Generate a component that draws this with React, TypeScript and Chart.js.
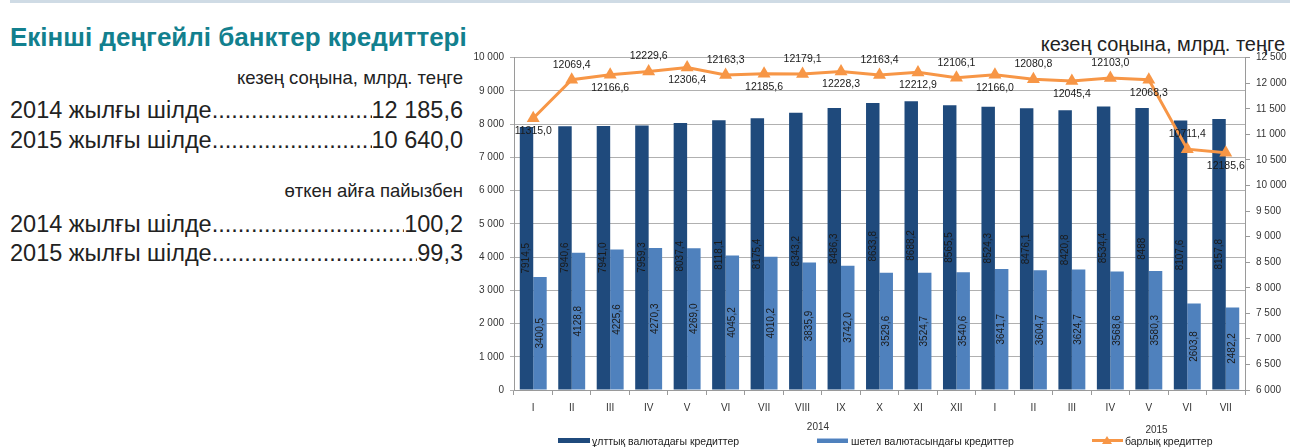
import React, { useEffect, useRef } from "react";
import { Chart, registerables } from "chart.js";

Chart.register(...registerables);

const months = ["I", "II", "III", "IV", "V", "VI", "VII", "VIII", "IX", "X", "XI", "XII", "I", "II", "III", "IV", "V", "VI", "VII"];
const nationalCredits = [7914.5, 7940.6, 7941.0, 7959.3, 8037.4, 8118.1, 8175.4, 8343.2, 8486.3, 8633.8, 8688.2, 8565.5, 8524.3, 8476.1, 8420.8, 8534.4, 8488, 8107.6, 8157.8];
const nationalLabels = ["7914,5", "7940,6", "7941,0", "7959,3", "8037,4", "8118,1", "8175,4", "8343,2", "8486,3", "8633,8", "8688,2", "8565,5", "8524,3", "8476,1", "8420,8", "8534,4", "8488", "8107,6", "8157,8"];
const foreignCredits = [3400.5, 4128.8, 4225.6, 4270.3, 4269.0, 4045.2, 4010.2, 3835.9, 3742.0, 3529.6, 3524.7, 3540.6, 3641.7, 3604.7, 3624.7, 3568.6, 3580.3, 2603.8, 2482.2];
const foreignLabels = ["3400,5", "4128,8", "4225,6", "4270,3", "4269,0", "4045,2", "4010,2", "3835,9", "3742,0", "3529,6", "3524,7", "3540,6", "3641,7", "3604,7", "3624,7", "3568,6", "3580,3", "2603,8", "2482,2"];
const totalCredits = [11315.0, 12069.4, 12166.6, 12229.6, 12306.4, 12163.3, 12185.6, 12179.1, 12228.3, 12163.4, 12212.9, 12106.1, 12166.0, 12080.8, 12045.4, 12103.0, 12068.3, 10711.4, 10640.0];
const totalLabels = ["11315,0", "12069,4", "12166,6", "12229,6", "12306,4", "12163,3", "12185,6", "12179,1", "12228,3", "12163,4", "12212,9", "12106,1", "12166,0", "12080,8", "12045,4", "12103,0", "12068,3", "10711,4", "12185,6"];
const yearLabels = ["2014", "2015"];
const seriesNames = ["ұлттық валютадағы кредиттер", "шетел валютасындағы кредиттер", "барлық кредиттер"];

const FONT = "'Liberation Sans', Arial, sans-serif";
const DARK = "#1f4a7c";
const LIGHT = "#4f81bd";
const ORANGE = "#f79646";
const TEXT = "#222222";

const fmt = (v: number) => String(Math.round(v)).replace(/\B(?=(\d{3})+(?!\d))/g, " ");

const labelsPlugin = {
  id: "valueLabels",
  afterDatasetsDraw(chart: any) {
    const ctx = chart.ctx;
    ctx.save();
    ctx.fillStyle = "#1a1a1a";
    ctx.textAlign = "center";
    ctx.textBaseline = "middle";
    ctx.font = `10px ${FONT}`;
    [0, 1].forEach((di) => {
      const meta = chart.getDatasetMeta(di);
      const texts = di === 0 ? nationalLabels : foreignLabels;
      meta.data.forEach((el: any, i: number) => {
        const p = el.getProps(["x", "y", "base"], true);
        ctx.save();
        ctx.translate(p.x, (p.y + p.base) / 2);
        ctx.rotate(-Math.PI / 2);
        ctx.fillText(texts[i], 0, 0);
        ctx.restore();
      });
    });
    ctx.font = `10.5px ${FONT}`;
    const lm = chart.getDatasetMeta(2);
    lm.data.forEach((pt: any, i: number) => {
      const dy = i % 2 === 0 ? 13 : -15;
      ctx.fillText(totalLabels[i], pt.x, pt.y + dy);
    });
    const xs = chart.scales.x;
    const yearPos = [7.4, 16.2];
    const yearY = [xs.top + 37, xs.top + 40];
    ctx.font = `10px ${FONT}`;
    ctx.fillStyle = "#333333";
    yearLabels.forEach((t, i) => {
      ctx.fillText(t, xs.getPixelForValue(yearPos[i]), yearY[i]);
    });
    ctx.restore();
  },
};

function ChartCanvas() {
  const ref = useRef<HTMLCanvasElement | null>(null);
  useEffect(() => {
    if (!ref.current) return;
    const tickFont = { family: FONT, size: 10 };
    const chart = new Chart(ref.current, {
      type: "bar",
      data: {
        labels: months,
        datasets: [
          { type: "bar", label: seriesNames[0], data: nationalCredits, backgroundColor: DARK, yAxisID: "y", order: 1, categoryPercentage: 0.7, barPercentage: 1 } as any,
          { type: "bar", label: seriesNames[1], data: foreignCredits, backgroundColor: LIGHT, yAxisID: "y", order: 2, categoryPercentage: 0.7, barPercentage: 1 } as any,
          {
            type: "line",
            label: seriesNames[2],
            data: totalCredits,
            borderColor: ORANGE,
            backgroundColor: ORANGE,
            borderWidth: 3,
            pointStyle: "triangle",
            pointRadius: 7.5,
            pointBackgroundColor: ORANGE,
            pointBorderColor: ORANGE,
            pointBorderWidth: 0,
            tension: 0,
            yAxisID: "y1",
            order: 0,
          } as any,
        ],
      },
      options: {
        responsive: false,
        animation: false,
        devicePixelRatio: 1,
        layout: { padding: { top: 17.7, left: 0, right: 0, bottom: 0 } },
        plugins: { legend: { display: false }, tooltip: { enabled: false } },
        scales: {
          x: {
            grid: { offset: true, drawOnChartArea: false, tickLength: 5, color: "#9a9a9a" },
            border: { color: "#9a9a9a" },
            ticks: { color: "#333333", font: tickFont, padding: 7, maxRotation: 0, autoSkip: false },
            afterFit: (s: any) => { s.height = 50; },
          },
          y: {
            position: "left",
            min: 0,
            max: 10000,
            ticks: { stepSize: 1000, callback: (v: any) => fmt(Number(v)), color: "#333333", font: tickFont, padding: 6 },
            grid: { color: "#b0b0b0", tickLength: 4 },
            border: { color: "#9a9a9a" },
            afterFit: (s: any) => { s.width = 54; },
          },
          y1: {
            position: "right",
            min: 6000,
            max: 12500,
            ticks: { stepSize: 500, callback: (v: any) => fmt(Number(v)), color: "#333333", font: tickFont, padding: 6 },
            grid: { drawOnChartArea: false, tickLength: 5, color: "#9a9a9a" },
            border: { color: "#9a9a9a" },
            afterFit: (s: any) => { s.width = 48; },
          },
        },
      } as any,
      plugins: [labelsPlugin],
    });
    return () => chart.destroy();
  }, []);
  return (
    <canvas
      ref={ref}
      width={833}
      height={400}
      style={{ position: "absolute", left: 460, top: 40, width: 833, height: 400 }}
    />
  );
}

const rowStyle = (top: number, fs: number): React.CSSProperties => ({
  position: "absolute",
  left: 10,
  width: 453,
  top,
  fontSize: fs,
  lineHeight: `${fs}px`,
  display: "flex",
  whiteSpace: "nowrap",
  color: TEXT,
});

const DOTS = ".".repeat(120);

function Row({ top, label, value }: { top: number; label: string; value: string }) {
  return (
    <div style={rowStyle(top, 23.5)}>
      <span>{label}</span>
      <span style={{ flex: 1, overflow: "hidden", whiteSpace: "nowrap" }}>{DOTS}</span>
      <span>{value}</span>
    </div>
  );
}

export default function App() {
  const legendText: React.CSSProperties = { position: "absolute", top: 436, fontSize: 10.5, lineHeight: "10.5px", color: TEXT, whiteSpace: "nowrap" };
  return (
    <div style={{ position: "absolute", left: 0, top: 0, width: 1293, height: 447, overflow: "hidden", background: "#ffffff", fontFamily: FONT }}>
      <div style={{ position: "absolute", left: 10, top: 0, width: 1280, height: 3, background: "#cfdbe5" }} />
      <div style={{ position: "absolute", left: 10, top: 24, fontSize: 26, lineHeight: "26px", fontWeight: "bold", color: "#12808e", whiteSpace: "nowrap" }}>
        Екінші деңгейлі банктер кредиттері
      </div>
      <div style={{ position: "absolute", right: 1293 - 463, top: 69.3, fontSize: 18.5, lineHeight: "18.5px", color: TEXT, whiteSpace: "nowrap" }}>
        кезең соңына, млрд. теңге
      </div>
      <Row top={99.1} label="2014 жылғы шілде" value="12 185,6" />
      <Row top={128.6} label="2015 жылғы шілде" value="10 640,0" />
      <div style={{ position: "absolute", right: 1293 - 463, top: 182.3, fontSize: 18.5, lineHeight: "18.5px", color: TEXT, whiteSpace: "nowrap" }}>
        өткен айға пайызбен
      </div>
      <Row top={213.1} label="2014 жылғы шілде" value="100,2" />
      <Row top={242.1} label="2015 жылғы шілде" value="99,3" />
      <div style={{ position: "absolute", right: 1293 - 1285, top: 34, fontSize: 20, lineHeight: "20px", color: TEXT, whiteSpace: "nowrap" }}>
        кезең соңына, млрд. теңге
      </div>
      <ChartCanvas />
      <div style={{ position: "absolute", left: 558, top: 438, width: 32, height: 5, background: DARK }} />
      <div style={{ ...legendText, left: 592 }}>{seriesNames[0]}</div>
      <div style={{ position: "absolute", left: 817, top: 438, width: 31, height: 5, background: LIGHT, borderTop: "1px solid #a9c2e3", boxSizing: "border-box" }} />
      <div style={{ ...legendText, left: 851 }}>{seriesNames[1]}</div>
      <div style={{ position: "absolute", left: 1092, top: 439, width: 31, height: 3, background: ORANGE }} />
      <div style={{ position: "absolute", left: 1102, top: 436, width: 0, height: 0, borderLeft: "5px solid transparent", borderRight: "5px solid transparent", borderBottom: "8px solid " + ORANGE }} />
      <div style={{ ...legendText, left: 1125 }}>{seriesNames[2]}</div>
    </div>
  );
}
